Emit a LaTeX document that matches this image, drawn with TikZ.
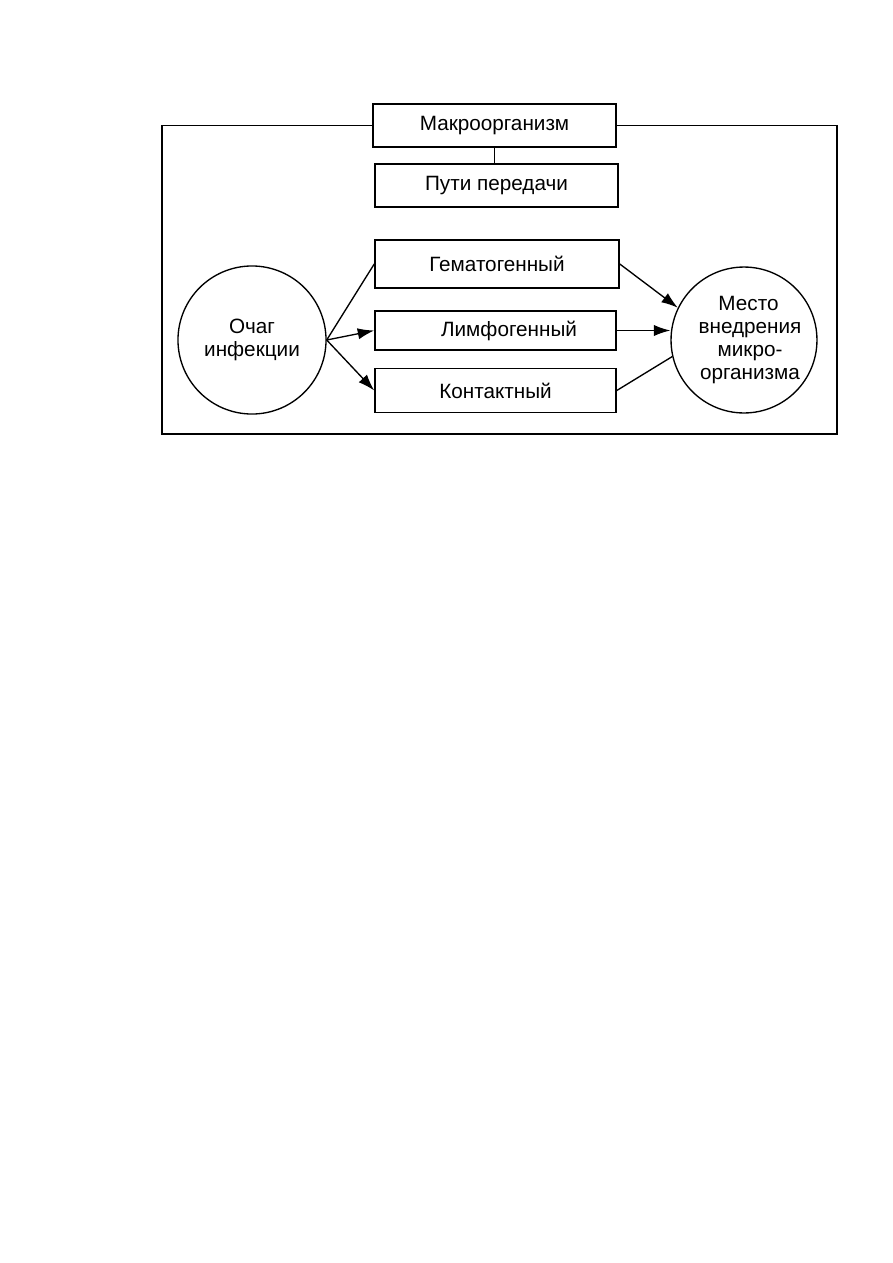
\documentclass[tikz,border=0pt]{standalone}
\usepackage{fontspec}
\setmainfont{Liberation Sans}
\usepackage{tikz}
\usetikzlibrary{arrows.meta}

\tikzset{
  box/.style={draw, line width=1pt, minimum width=162pt, minimum height=28.7pt, inner sep=0pt},
  roundbox/.style={draw, circle, line width=0.9pt, inner sep=0pt, align=center},
  link/.style={line width=0.9pt},
  arr/.style={line width=0.9pt, -{Latex[length=11pt,width=7.5pt]}}
}

\begin{document}
\begin{tikzpicture}[x=0.6667pt, y=-0.6667pt, font=\fontsize{13.8}{15.5}\selectfont]
        \useasboundingbox (0,0) rectangle (893,1263);

         % top boxes
        \node[box] (makro) at (494.5,125.5) {Макроорганизм};
        \node[box] (puti) at (496.5,185.5) {Пути передачи};
        \draw[link] (makro.south) -- (makro.south |- puti.north);

         % frame
        \coordinate (frameSW) at (162,434);
        \coordinate (frameNE) at (837,125.5);
        \draw[link] (makro.west) -| (frameSW) -| (frameNE) -- (makro.east);

         % ways
        \node[box, minimum width=162.7pt, minimum height=32pt] (gemat) at (497,264) {Гематогенный};
        \node[box, minimum width=160.7pt, minimum height=26pt] (limf) at (495.5,330.5) {\hspace*{18pt}Лимфогенный};
        \node[box, minimum width=160.7pt, minimum height=29.3pt] (kontakt) at (495.5,390.5) {Контактный};

         % circles
        \node[roundbox, minimum size=98.7pt] (ochag) at (252,340) {Очаг\\инфекции};
        \node[roundbox, minimum size=97.3pt] (mesto) at (744,340) {\hspace*{6pt}Место\\\hspace*{8pt}внедрения\\\hspace*{8pt}микро-\\\hspace*{8pt}организма};

         % from ochag
        \draw[link] (ochag.east) -- (gemat.west);
        \draw[arr] (ochag.east) -- (limf.west);
        \draw[arr] (ochag.east) -- (kontakt.west);

         % to mesto
        \draw[arr] (gemat.east) -- (mesto.154);
        \draw[arr] (limf.east) -- (limf.east -| mesto.west);
        \draw[link] (kontakt.east) -- (mesto.193);
      \end{tikzpicture}
\end{document}
